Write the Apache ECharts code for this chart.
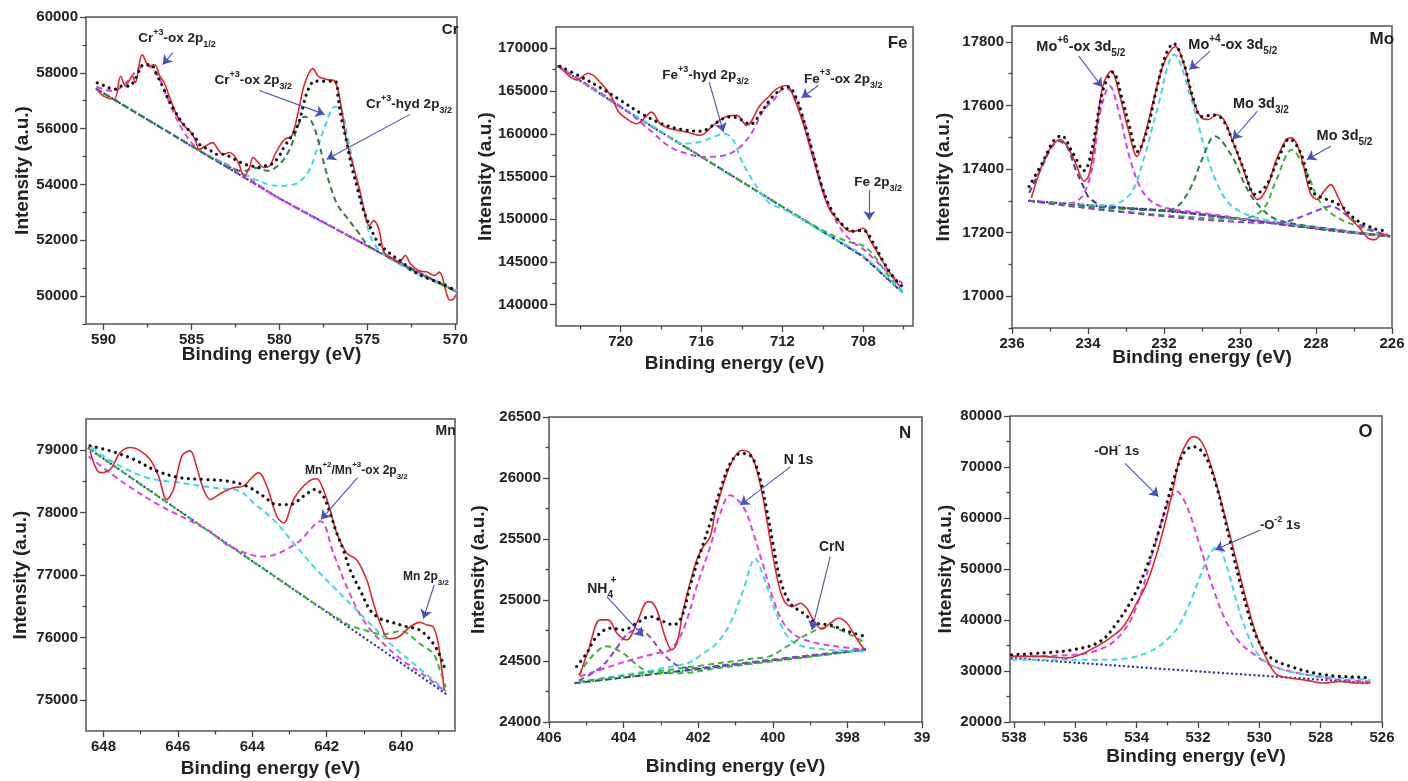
<!DOCTYPE html>
<html>
<head>
<meta charset="utf-8">
<script src="https://cdn.jsdelivr.net/npm/echarts@6/dist/echarts.min.js"></script>
<style>
  html, body { margin: 0; padding: 0; background: #fff; }
  #chart { width: 1408px; height: 781px; }
</style>
</head>
<body>
<div id="chart"></div>
<script>
// XPS fits of six elements

// ---- Cr 2p ----
const crRaw = [[590.36,57404],[590,57164],[589.4,57046],[589.03,57879],[588.76,57521],[588.36,57879],[588.2,57643],[587.8,58653],[587.4,58236],[587.1,58296],[586.8,57879],[586.55,57643],[586.2,57046],[585.8,56450],[585.4,56093],[585.1,55914],[584.8,55618],[584.55,55261],[584.2,55380],[583.8,55500],[583.5,55261],[583.2,55083],[582.85,55143],[582.55,55023],[582.3,54725],[582.0,54308],[581.7,54608],[581.5,54964],[581.2,54786],[580.9,54608],[580.55,54667],[580.2,55143],[579.7,55618],[579.3,55737],[578.9,56689],[578.55,57643],[578.1,58150],[577.8,57879],[577.6,57821],[577.3,57760],[576.85,57700],[576.46,56689],[576.2,55618],[575.8,54667],[575.4,53716],[575.1,52883],[574.9,52526],[574.65,52704],[574.35,52407],[574.06,51574],[573.7,51396],[573.2,51217],[572.84,51455],[572.55,51158],[572.1,50920],[571.6,50860],[571.2,50740],[570.9,50860],[570.5,50100],[570.3,49850],[570.1,49900],[569.95,50050]];
const crFit = [[590.36,57643],[589.9,57521],[589.4,57404],[589.03,57521],[588.55,57521],[588.17,57821],[587.7,58296],[587.3,58296],[587.03,58000],[586.65,57521],[586.36,57107],[586,56689],[585.6,56272],[585.2,55975],[584.84,55736],[584.46,55379],[584,55261],[583.6,55083],[583.1,55083],[582.75,54965],[582.36,54843],[582,54725],[581.6,54665],[581.2,54607],[580.84,54665],[580.46,54725],[580.07,54965],[579.7,55379],[579.3,55736],[578.9,56215],[578.65,56807],[578.36,57404],[578,57700],[577.7,57700],[576.84,57700],[576.65,57046],[576.46,56332],[576.17,55500],[575.9,54665],[575.6,53950],[575.3,53236],[574.95,52643],[574.4,51928],[573.8,51572],[573.03,51215],[572.3,50858],[571.5,50620],[570.74,50441],[570,50203]];
const crBg = [[590.4,57420],[585,55380],[580,53500],[575,51800],[569.9,50150]];
const crOx12 = [[590.4,57500],[589.5,57350],[589,57480],[588.5,57800],[588,58150],[587.6,58250],[587.2,58150],[586.8,57750],[586.4,57150],[586,56550],[585.5,55950],[585,55500],[584.5,55200],[584,55020],[583,54720],[582,54330],[580,53500],[575,51800],[569.9,50150]];
const crOx32 = [[590.4,57420],[585,55380],[583,54650],[582,54480],[581.43,54600],[580.67,54488],[579.9,54786],[579.33,55381],[578.95,56095],[578.57,56429],[578.19,56274],[577.81,55619],[577.43,54667],[577.05,53833],[576.67,53238],[576.1,52762],[575.52,52286],[574.95,51810],[574,51450],[572,50800],[569.9,50150]];
const crHyd = [[590.4,57420],[585,55380],[583,54700],[582.2,54450],[581.4,54190],[580.1,53952],[579.14,54012],[578.38,54429],[577.8,55381],[577.33,56214],[576.86,56786],[576.48,56690],[576.1,55619],[575.7,54429],[575.14,52881],[574.76,52048],[574.2,51571],[573.05,51095],[571.14,50500],[569.9,50200]];
const crXMajor = [570, 575, 580, 585, 590];
const crXMinor = [572.5, 577.5, 582.5, 587.5];
const crYMajor = [50000, 52000, 54000, 56000, 58000, 60000];
const crYMinor = [49000, 51000, 53000, 55000, 57000, 59000];

// ---- Fe 2p ----
const feRaw = [[723.0,167863],[722.18,166308],[721.6,167086],[720.94,165842],[720.45,164288],[720.12,162617],[719.7,161762],[719.21,161179],[718.47,162539],[718.06,161179],[717.56,160596],[716.74,160207],[716.08,159819],[715.42,160984],[714.76,162034],[714.26,162150],[713.77,160984],[713.11,163316],[712.62,164482],[712.29,165259],[711.79,165648],[711.38,163899],[710.97,161179],[710.64,158459],[710.31,155738],[709.98,153018],[709.65,151075],[709.32,150104],[708.82,148744],[708.5,148549],[708.0,148938],[707.67,147578],[707.18,145634],[706.68,143691],[706.19,142137]];
const feFit = [[723.0,167900],[722,166700],[721,165400],[720,163900],[719,162400],[718,161200],[717,160500],[716,160300],[715.5,160900],[715,161700],[714.5,162000],[714,161600],[713.6,161100],[713,162700],[712.5,164300],[712,165300],[711.7,165500],[711.3,164100],[711,162000],[710.5,157800],[710,153500],[709.5,150800],[709,149300],[708.5,148600],[708,148700],[707.5,147200],[707,145000],[706.5,143200],[706.1,142200]];
const feBg = [[723.1,167900],[720,163120],[716,157290],[712,151460],[708,145630],[706.05,141400]];
const feHyd = [[723.1,167900],[720,163200],[718.2,160600],[716.9,158850],[716.08,159041],[715.42,159624],[714.84,160013],[714.43,159236],[714.1,157293],[713.77,155738],[713.27,153795],[712.62,151852],[711.96,151200],[710,148500],[708,145700],[706.05,141400]];
const feOx = [[723.1,167900],[721,164800],[719.5,162300],[718.5,160300],[717.56,158459],[716.74,157681],[715.91,157293],[715.09,157370],[714.43,157875],[713.93,158847],[713.44,160401],[712.95,162733],[712.45,163899],[711.87,165376],[711.5,164800],[711,162000],[710.5,157800],[710,153500],[709.5,150500],[709,148500],[708.5,147300],[708,146500],[707.5,145400],[707,144300],[706.5,143200],[706.05,142500]];
const feMet = [[723.1,167900],[720,163120],[716,157290],[712,151460],[710,148700],[709,147600],[708.5,147200],[708,146900],[707.5,145800],[707,144200],[706.5,142700],[706.05,141550]];
const feXMajor = [708, 712, 716, 720];
const feXMinor = [706, 710, 714, 718, 722];
const feYMajor = [140000, 145000, 150000, 155000, 160000, 165000, 170000];
const feYMinor = [142500, 147500, 152500, 157500, 162500, 167500];

// ---- Mo 3d ----
const moRaw = [[235.49,17309],[235.22,17409],[234.95,17472],[234.73,17493],[234.55,17472],[234.33,17419],[234.1,17362],[233.97,17383],[233.79,17514],[233.61,17661],[233.39,17708],[233.16,17629],[232.94,17524],[232.71,17440],[232.49,17514],[232.27,17619],[232.0,17734],[231.7,17785],[231.46,17723],[231.24,17619],[231.01,17561],[230.83,17556],[230.61,17571],[230.43,17556],[230.21,17493],[229.94,17409],[229.72,17336],[229.54,17304],[229.31,17336],[229.04,17430],[228.78,17493],[228.64,17498],[228.42,17451],[228.15,17325],[227.97,17304],[227.79,17330],[227.61,17351],[227.43,17314],[227.16,17252],[226.89,17220],[226.63,17183],[226.45,17178],[226.27,17194],[226.09,17194]];
const moFit = [[235.55,17345],[235.2,17420],[234.9,17490],[234.7,17505],[234.4,17450],[234.1,17395],[233.9,17460],[233.6,17650],[233.35,17705],[233.1,17620],[232.9,17530],[232.7,17455],[232.45,17520],[232.2,17650],[231.95,17760],[231.75,17795],[231.5,17740],[231.25,17630],[231.0,17565],[230.7,17570],[230.45,17555],[230.2,17490],[229.9,17400],[229.6,17320],[229.3,17350],[229.0,17430],[228.7,17495],[228.4,17450],[228.1,17330],[227.85,17310],[227.6,17300],[227.3,17280],[227.0,17245],[226.7,17225],[226.4,17210],[226.1,17205]];
const moBg = [[235.55,17300],[233.5,17282],[231.6,17265],[229.5,17235],[227.5,17205],[226.05,17188]];
const moP235 = [[235.55,17325],[235.2,17410],[234.95,17470],[234.77,17488],[234.55,17470],[234.33,17400],[234.1,17340],[233.97,17310],[233.6,17285],[232,17270],[230,17243],[228,17213],[226.05,17188]];
const moOx6 = [[235.55,17300],[234.5,17292],[234.15,17315],[233.88,17408],[233.7,17566],[233.43,17661],[233.16,17566],[232.89,17430],[232.54,17325],[232.09,17283],[231,17262],[229,17230],[226.05,17188]];
const moOx4 = [[235.55,17300],[233.5,17285],[232.9,17320],[232.54,17430],[232.18,17587],[231.73,17760],[231.28,17619],[230.92,17461],[230.57,17346],[230.21,17283],[229.5,17245],[227.5,17210],[226.05,17188]];
const mo3d32 = [[235.55,17300],[232,17270],[231.64,17283],[231.28,17346],[231.0,17430],[230.66,17503],[230.21,17440],[229.85,17346],[229.49,17283],[229,17240],[227.5,17210],[226.05,17188]];
const mo3d52 = [[235.55,17300],[230,17243],[229.4,17273],[229.04,17367],[228.64,17461],[228.24,17388],[227.88,17294],[227.34,17241],[226.05,17188]];
const moP227 = [[235.55,17300],[229,17230],[228.5,17245],[228,17268],[227.6,17283],[227.2,17255],[226.8,17222],[226.05,17188]];
const moXMajor = [226, 228, 230, 232, 234, 236];
const moXMinor = [227, 229, 231, 233, 235];
const moYMajor = [17000, 17200, 17400, 17600, 17800];
const moYMinor = [16900, 17100, 17300, 17500, 17700];

// ---- Mn 2p ----
const mnRaw = [[648.36,78989],[648.09,78640],[647.82,78694],[647.55,78962],[647.28,79043],[647.01,78989],[646.75,78855],[646.52,78586],[646.3,78210],[646.12,78371],[645.89,78909],[645.67,78989],[645.49,78720],[645.31,78371],[645.13,78210],[644.82,78317],[644.51,78398],[644.24,78425],[644.01,78559],[643.83,78640],[643.61,78425],[643.34,77941],[643.16,77833],[642.89,78210],[642.62,78425],[642.4,78532],[642.27,78543],[642.09,78371],[641.91,78048],[641.73,77672],[641.46,77350],[641.19,77242],[640.92,76919],[640.74,76543],[640.52,76167],[640.34,75979],[640.07,76006],[639.76,76167],[639.5,76240],[639.3,76200],[639.13,76166],[639.0,75898],[638.9,75468],[638.84,75145]];
const mnFit = [[648.36,79070],[647.82,78989],[647.19,78855],[646.57,78667],[645.94,78559],[645.31,78532],[644.68,78506],[644.15,78425],[643.7,78263],[643.34,78129],[642.98,78129],[642.62,78263],[642.31,78371],[642.09,78263],[641.91,77995],[641.73,77672],[641.55,77403],[641.37,77081],[641.1,76758],[640.83,76436],[640.56,76300],[640.29,76250],[639.9,76180],[639.49,76113],[639.13,75898],[638.9,75630],[638.8,75450]];
const mnBg = [[648.4,79030],[643.6,77060],[638.8,75100]];
const mnOx = [[648.4,78900],[647.46,78479],[646.5,78120],[645.22,77726],[644.59,77456],[643.7,77295],[642.8,77511],[642.17,77860],[641.82,77350],[641.46,76811],[641.01,76274],[640.56,75951],[640,75650],[639.4,75400],[638.8,75130]];
const mnSat = [[648.31,79043],[647.73,78802],[646.83,78560],[645.94,78479],[645.04,78398],[644.33,78344],[643.97,78156],[643.43,77887],[642.89,77511],[642.35,77134],[641.82,76811],[641.28,76489],[640.74,76166],[640.2,75850],[639.6,75550],[638.8,75150]];
const mnMet = [[648.4,79030],[643.6,77060],[641.5,76230],[641,76120],[640.5,76050],[640,76100],[639.5,75900],[639.13,75737],[638.95,75468],[638.8,75200]];
const mnXMajor = [640, 642, 644, 646, 648];
const mnXMinor = [639, 641, 643, 645, 647];
const mnYMajor = [75000, 76000, 77000, 78000, 79000];
const mnYMinor = [75500, 76500, 77500, 78500];

// ---- N 1s ----
const nRaw = [[405.17,24387],[404.94,24592],[404.63,24837],[404.41,24837],[404.18,24728],[403.92,24673],[403.65,24810],[403.42,24973],[403.29,24987],[403.11,24919],[402.89,24701],[402.71,24592],[402.57,24646],[402.4,24919],[402.22,25137],[402.04,25328],[401.86,25437],[401.68,25519],[401.55,25709],[401.32,25955],[401.1,26132],[400.83,26227],[400.61,26200],[400.43,26064],[400.25,25818],[400.07,25491],[399.89,25191],[399.71,25001],[399.49,24946],[399.26,24973],[399.09,24932],[398.91,24837],[398.68,24761],[398.46,24810],[398.24,24851],[398.01,24810],[397.79,24701],[397.57,24605]];
const nFit = [[405.26,24455],[404.99,24564],[404.72,24701],[404.36,24769],[404.0,24755],[403.65,24810],[403.29,24864],[402.93,24823],[402.66,24796],[402.44,24864],[402.22,25110],[401.95,25382],[401.68,25628],[401.41,25900],[401.14,26118],[400.87,26200],[400.61,26186],[400.38,26037],[400.16,25737],[399.98,25437],[399.8,25164],[399.53,24973],[399.18,24891],[398.82,24810],[398.46,24796],[398.1,24755],[397.83,24728],[397.52,24701]];
const nBg = [[405.3,24319],[401.4,24455],[397.5,24592]];
const nNh4a = [[405.2,24380],[404.9,24520],[404.45,24620],[404.0,24560],[403.65,24470],[403.29,24410],[402.5,24400],[401.5,24440],[397.5,24592]];
const nNh4b = [[405.2,24340],[404.6,24450],[404.2,24600],[403.9,24720],[403.6,24760],[403.3,24700],[403.0,24580],[402.6,24470],[402.2,24440],[401.5,24460],[397.5,24600]];
const nN1s = [[405.17,24373],[404.09,24482],[403.47,24537],[403.11,24564],[402.75,24592],[402.4,24755],[402.04,25110],[401.68,25437],[401.41,25709],[401.14,25859],[400.79,25764],[400.52,25546],[400.25,25273],[399.98,25001],[399.71,24810],[399.35,24701],[398.82,24646],[398.28,24619],[397.57,24592]];
const nN1sB = [[405.2,24330],[402.31,24480],[401.86,24564],[401.5,24646],[401.14,24810],[400.79,25082],[400.47,25341],[400.25,25191],[400.07,25028],[399.8,24810],[399.53,24673],[399.18,24619],[398.46,24592],[397.57,24578]];
const nCrN = [[405.2,24330],[400.52,24520],[400.07,24540],[399.62,24619],[399.18,24701],[398.82,24755],[398.46,24782],[398.1,24741],[397.74,24687],[397.52,24646]];
const nXMajor = [396, 398, 400, 402, 404, 406];
const nXMinor = [397, 399, 401, 403, 405];
const nYMajor = [24000, 24500, 25000, 25500, 26000, 26500];
const nYMinor = [24250, 24750, 25250, 25750, 26250];

// ---- O 1s ----
const oRaw = [[538.08,32860],[537.15,32860],[536.28,32534],[535.85,33187],[535.3,34820],[534.87,36451],[534.43,38736],[534.0,43307],[533.67,47224],[533.34,53100],[533.02,60282],[532.8,66158],[532.58,72035],[532.31,75300],[532.15,75952],[531.93,75300],[531.71,72688],[531.38,66158],[531.06,58977],[530.73,51142],[530.4,43307],[530.08,36778],[529.75,32208],[529.43,29270],[528.99,28617],[528.45,28160],[527.9,27637],[527.36,27963],[526.81,27637],[526.38,27637]];
const oFit = [[538.08,33187],[537.15,33513],[536.06,34167],[535.19,35800],[534.65,39390],[534.1,44613],[533.67,50489],[533.23,58324],[532.8,67465],[532.47,72688],[532.15,73994],[531.82,72688],[531.49,68117],[531.17,60935],[530.84,52448],[530.51,44613],[530.19,38084],[529.86,34167],[529.53,32208],[528.99,30902],[528.45,29923],[527.9,29270],[527.36,28943],[526.81,28813],[526.38,28617]];
const oBg = [[538.08,32534],[532.8,30250],[526.38,27637]];
const oOH = [[538.08,32860],[536.06,33187],[534.98,34820],[534.32,38736],[533.89,44613],[533.45,53753],[533.02,62241],[532.69,65180],[532.36,62241],[531.93,54406],[531.49,45919],[531.06,39390],[530.62,35472],[530.08,32860],[529.53,30902],[528.45,29270],[527.36,28290],[526.38,27963]];
const oO2 = [[538.08,32208],[534.98,32208],[533.67,33513],[532.8,37431],[532.36,42001],[531.93,48530],[531.6,53100],[531.38,54406],[531.06,50489],[530.73,43307],[530.4,37431],[530.08,33513],[529.53,30902],[528.45,29270],[526.38,28290]];
const oXMajor = [526, 528, 530, 532, 534, 536, 538];
const oXMinor = [527, 529, 531, 533, 535, 537];
const oYMajor = [20000, 30000, 40000, 50000, 60000, 70000, 80000];
const oYMinor = [25000, 35000, 45000, 55000, 65000, 75000];

const FONT = '"Liberation Sans", Arial, Helvetica, sans-serif';
const ARROW = '#4254bd';

// line looks used in the figure
const STY = {
  raw:     { color: '#e3262b', width: 1.6, type: 'solid' },
  fit:     { color: '#111111', width: 3.2, type: [0.01, 6.5], cap: 'round' },
  bgBlue:  { color: '#2434b5', width: 2.4, type: [0.01, 4.5], cap: 'round' },
  bgPurp:  { color: '#8a3fd0', width: 2, type: [6, 4] },
  magenta: { color: '#e03fe6', width: 2, type: [6, 4] },
  cyan:    { color: '#3fd8e6', width: 2, type: [6, 4] },
  green:   { color: '#35b835', width: 2, type: [6, 4] },
  dgreen:  { color: '#2f7f3c', width: 2, type: [6, 4] },
  navy:    { color: '#3d4399', width: 2, type: [6, 4] },
  greenDot:{ color: '#2fa83a', width: 2.4, type: [0.01, 4.5], cap: 'round' }
};
const STRAIGHT = ['bgBlue', 'bgPurp', 'navy', 'greenDot'];

const panels = [
  { box: [86, 17, 371, 307], xr: [569.9, 591], yr: [49000, 60000], xt: [crXMajor, crXMinor], yt: [crYMajor, crYMinor], gaps: [21, 54],
    lines: [[crBg, 'bgBlue'], [crBg, 'bgPurp'], [crOx12, 'magenta'], [crHyd, 'cyan'], [crOx32, 'dgreen'], [crRaw, 'raw'], [crFit, 'fit']],
    notes: [
      { t: 'Cr{sup|+3}-ox 2p{sub|1/2}', at: [585.83, 59225], s: 13.5 },
      { t: 'Cr{sup|+3}-ox 2p{sub|3/2}', at: [581.49, 57725], s: 13.5 },
      { t: 'Cr{sup|+3}-hyd 2p{sub|3/2}', at: [572.63, 56868], s: 13.5 },
      { t: 'Cr', at: [570.29, 59546], s: 15 }
    ],
    arrows: [[586.06, 58725, 586.63, 58296], [581.14, 57368, 577.43, 56511], [572.57, 56511, 577.31, 54904]] },
  { box: [556, 27, 357, 299], xr: [705.54, 723.2], yr: [137500, 172500], xt: [feXMajor, feXMinor], yt: [feYMajor, feYMinor], gaps: [28, 61],
    lines: [[feBg, 'navy'], [feBg, 'bgBlue'], [feMet, 'green'], [feHyd, 'cyan'], [feOx, 'magenta'], [feRaw, 'raw'], [feFit, 'fit']],
    notes: [
      { t: 'Fe{sup|+3}-hyd 2p{sub|3/2}', at: [715.8, 166813], s: 13.5 },
      { t: 'Fe{sup|+3}-ox 2p{sub|3/2}', at: [708.99, 166425], s: 13.5 },
      { t: 'Fe 2p{sub|3/2}', at: [707.26, 154378], s: 13.5 },
      { t: 'Fe', at: [706.3, 170583], s: 17 }
    ],
    arrows: [[715.62, 166036, 714.92, 160207], [710.23, 165648, 711.05, 164210], [707.7, 153407, 707.7, 149910]] },
  { box: [1012, 26, 380, 302], xr: [226, 236], yr: [16900, 17850], xt: [moXMajor, moXMinor], yt: [moYMajor, moYMinor], gaps: [20, 59],
    lines: [[moBg, 'bgBlue'], [moBg, 'bgPurp'], [moP235, 'navy'], [moOx6, 'magenta'], [moOx4, 'cyan'], [mo3d32, 'dgreen'], [mo3d52, 'green'], [moP227, 'bgPurp'], [moRaw, 'raw'], [moFit, 'fit']],
    notes: [
      { t: 'Mo{sup|+6}-ox 3d{sub|5/2}', at: [234.19, 17784], s: 14.5 },
      { t: 'Mo{sup|+4}-ox 3d{sub|5/2}', at: [230.19, 17790], s: 14.5 },
      { t: 'Mo 3d{sub|3/2}', at: [229.45, 17605], s: 14.5 },
      { t: 'Mo 3d{sub|5/2}', at: [227.25, 17503], s: 14.5 },
      { t: 'Mo', at: [226.27, 17807], s: 17 }
    ],
    arrows: [[234.24, 17755, 233.63, 17658], [230.79, 17771, 231.33, 17713], [229.54, 17582, 230.19, 17493], [227.61, 17472, 228.24, 17430]] },
  { box: [86, 419, 369, 312], xr: [638.55, 648.47], yr: [74500, 79500], xt: [mnXMajor, mnXMinor], yt: [mnYMajor, mnYMinor], gaps: [28, 56],
    lines: [[mnBg, 'bgBlue'], [mnMet, 'green'], [mnOx, 'magenta'], [mnSat, 'cyan'], [mnRaw, 'raw'], [mnFit, 'fit']],
    notes: [
      { t: 'Mn{sup|+2}/Mn{sup|+3}-ox 2p{sub|3/2}', at: [641.2, 78665], s: 12 },
      { t: 'Mn 2p{sub|3/2}', at: [639.33, 76968], s: 12 },
      { t: 'Mn', at: [638.8, 79311], s: 14 }
    ],
    arrows: [[641.17, 78560, 642.15, 77890], [639.11, 76840, 639.4, 76300]] },
  { box: [549, 417, 373, 305], xr: [396, 406], yr: [24000, 26500], xt: [nXMajor, nXMinor], yt: [nYMajor, nYMinor], gaps: [35, 61],
    xfmt: v => (v === 396 ? '39' : String(v)),
    lines: [[nBg, 'greenDot'], [nBg, 'navy'], [nNh4a, 'green'], [nNh4b, 'bgPurp'], [nN1s, 'magenta'], [nN1sB, 'cyan'], [nCrN, 'green'], [nRaw, 'raw'], [nFit, 'fit']],
    notes: [
      { t: 'N 1s', at: [399.31, 26146], s: 14 },
      { t: 'CrN', at: [398.42, 25431], s: 14 },
      { t: 'NH{sub|4}', at: [404.63, 25090], s: 14 },
      { t: '+', at: [404.27, 25165], s: 10 },
      { t: 'N', at: [396.45, 26364], s: 17 }
    ],
    arrows: [[399.53, 26091, 400.87, 25778], [398.46, 25355, 398.95, 24755], [404.45, 25028, 403.47, 24701]] },
  { box: [1010, 416, 372, 306], xr: [526, 538.13], yr: [20000, 80000], xt: [oXMajor, oXMinor], yt: [oYMajor, oYMinor], gaps: [25, 55],
    lines: [[oBg, 'bgBlue'], [oOH, 'magenta'], [oO2, 'cyan'], [oRaw, 'raw'], [oFit, 'fit']],
    notes: [
      { t: '-OH{sup|-} 1s', at: [534.65, 73014], s: 13 },
      { t: '-O{sup|-2} 1s', at: [529.32, 58519], s: 13 },
      { t: 'O', at: [526.54, 76931], s: 18 }
    ],
    arrows: [[534.38, 70729, 533.29, 64200], [529.97, 57671, 531.44, 53753]] }
];

function richFor(size) {
  const small = Math.round(size * 0.7);
  const lh = size + 8;
  return {
    sup: { fontSize: small, fontWeight: 'bold', color: '#222', fontFamily: FONT, verticalAlign: 'top', lineHeight: lh },
    sub: { fontSize: small, fontWeight: 'bold', color: '#222', fontFamily: FONT, verticalAlign: 'bottom', lineHeight: lh }
  };
}

const tickLabel = { fontSize: 15, fontWeight: 'bold', color: '#222', fontFamily: FONT, margin: 8 };
const axisName = { fontSize: 19, fontWeight: 'bold', color: '#222', fontFamily: FONT };
const tickLine = { color: '#444', width: 1.3 };

const grids = [], xAxes = [], yAxes = [], series = [];

panels.forEach((p, i) => {
  const [l, t, w, h] = p.box;
  grids.push({ left: l, top: t, width: w, height: h, show: true, borderColor: '#555', borderWidth: 1.5, backgroundColor: 'transparent' });

  // main axes (labels + major ticks)
  xAxes.push({
    type: 'value', gridIndex: i, position: 'bottom', min: p.xr[0], max: p.xr[1], inverse: true,
    name: 'Binding energy (eV)', nameLocation: 'middle', nameGap: p.gaps[0], nameTextStyle: axisName, nameMoveOverlap: false,
    axisLine: { show: false }, splitLine: { show: false },
    axisTick: { show: true, length: 6, customValues: p.xt[0], lineStyle: tickLine },
    axisLabel: Object.assign({ customValues: p.xt[0], formatter: p.xfmt || (v => String(v)) }, tickLabel)
  });
  // overlay axis carrying minor ticks only, moved onto the bottom edge
  xAxes.push({
    type: 'value', gridIndex: i, position: 'top', offset: -h, min: p.xr[0], max: p.xr[1], inverse: true,
    axisLine: { show: false }, splitLine: { show: false }, axisLabel: { show: false },
    axisTick: { show: true, inside: true, length: 3.5, customValues: p.xt[1], lineStyle: tickLine }
  });
  yAxes.push({
    type: 'value', gridIndex: i, position: 'left', min: p.yr[0], max: p.yr[1],
    name: 'Intensity (a.u.)', nameLocation: 'middle', nameGap: p.gaps[1], nameTextStyle: axisName, nameMoveOverlap: false,
    axisLine: { show: false }, splitLine: { show: false },
    axisTick: { show: true, length: 6, customValues: p.yt[0], lineStyle: tickLine },
    axisLabel: Object.assign({ customValues: p.yt[0], formatter: v => String(v) }, tickLabel)
  });
  yAxes.push({
    type: 'value', gridIndex: i, position: 'right', offset: -w, min: p.yr[0], max: p.yr[1],
    axisLine: { show: false }, splitLine: { show: false }, axisLabel: { show: false },
    axisTick: { show: true, inside: true, length: 3.5, customValues: p.yt[1], lineStyle: tickLine }
  });

  p.lines.forEach(([data, sty]) => {
    const s = {
      type: 'line', xAxisIndex: 2 * i, yAxisIndex: 2 * i, data: data,
      symbol: 'none', showSymbol: false, smooth: STRAIGHT.includes(sty) && data.length < 7 ? false : 0.35,
      lineStyle: STY[sty], itemStyle: { color: STY[sty].color },
      silent: true, animation: false, z: sty === 'fit' ? 4 : sty === 'raw' ? 3 : 2
    };
    if (sty === 'raw') {
      // annotations: text labels and arrows, placed in data coordinates
      s.markPoint = {
        symbol: 'circle', symbolSize: 1, itemStyle: { color: 'rgba(0,0,0,0)' }, silent: true, animation: false,
        data: p.notes.map(n => ({
          coord: n.at, value: 0,
          label: {
            show: true, position: 'inside', formatter: n.t, fontSize: n.s, fontWeight: 'bold', color: '#222',
            fontFamily: FONT, lineHeight: n.s + 8, rich: richFor(n.s)
          }
        }))
      };
      s.markLine = {
        silent: true, animation: false, symbol: ['none', 'arrow'], symbolSize: 9,
        label: { show: false }, lineStyle: { color: ARROW, width: 1.1, type: 'solid' },
        itemStyle: { color: ARROW },
        data: p.arrows.map(a => [
          { coord: [a[0], a[1]], symbol: 'none' },
          { coord: [a[2], a[3]], symbol: 'arrow', symbolSize: 9 }
        ])
      };
    }
    series.push(s);
  });
});

const chart = echarts.init(document.getElementById('chart'), null, { renderer: 'canvas' });
chart.setOption({
  backgroundColor: '#ffffff',
  animation: false,
  grid: grids,
  xAxis: xAxes,
  yAxis: yAxes,
  series: series
});
</script>
</body>
</html>
